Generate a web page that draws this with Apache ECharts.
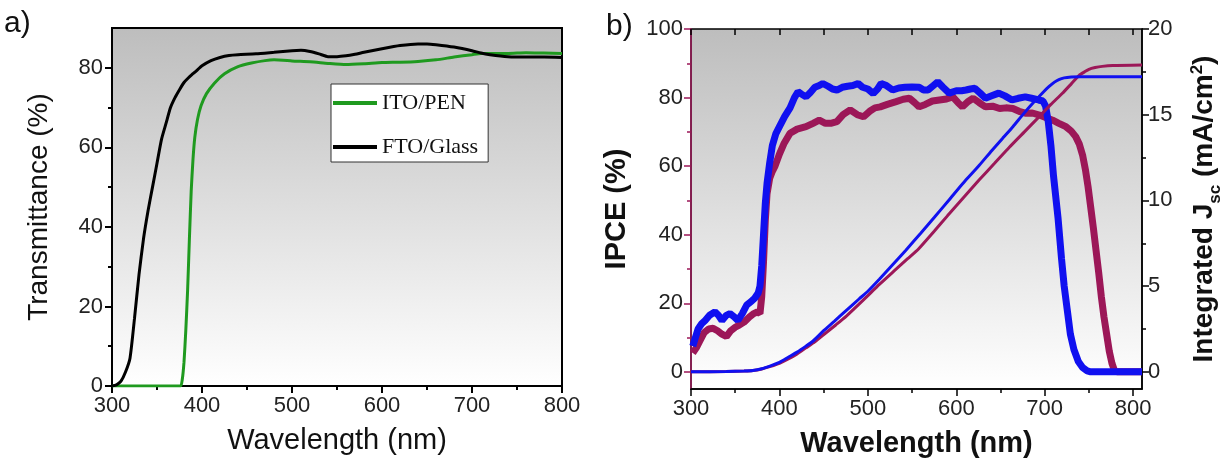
<!DOCTYPE html>
<html><head><meta charset="utf-8">
<script src="https://cdn.jsdelivr.net/npm/echarts@6/dist/echarts.min.js"></script>
<style>html,body{margin:0;padding:0;background:#fff}#c{width:1225px;height:465px}</style>
</head><body><div id="c"></div><script>
// ---------- DATA ----------
// Panel a) transmittance [wavelength nm, T %]
const ftoGlass = [[300,0],[305,0.3],[310,1.2],[315,3.5],[320,7],[325,17],[330,28],[335,37],[340,44],[345,50],[350,56],[355,62],[360,66],[365,70],[370,72.5],[375,74.5],[380,76.3],[385,77.5],[390,78.5],[395,79.5],[400,80.5],[410,81.8],[420,82.6],[430,83.1],[440,83.3],[460,83.5],[480,83.9],[500,84.3],[510,84.4],[520,84.1],[530,83.5],[540,82.8],[550,82.8],[560,83.0],[570,83.4],[580,83.9],[600,84.8],[620,85.6],[640,86],[650,86],[660,85.8],[680,85.2],[700,84.3],[710,83.7],[720,83.3],[740,82.8],[760,82.7],[780,82.7],[800,82.6]];
const itoPen = [[300,0],[376,0],[378,1.5],[380,6],[382,14],[384,24],[386,37],[388,49],[390,57],[392,62.5],[395,67],[399,70.5],[405,73.5],[414,76.2],[425,78.5],[440,80.3],[455,81.2],[470,81.8],[480,82],[490,81.9],[500,81.7],[520,81.5],[540,81.1],[560,80.8],[580,81],[600,81.3],[620,81.4],[640,81.6],[660,82],[680,82.7],[700,83.3],[710,83.6],[720,83.6],[740,83.6],[760,83.8],[780,83.7],[800,83.6]];
// Panel b) IPCE [wavelength nm, IPCE %]
const ipceBlue = [[302,7.5],[305,10],[308,12.5],[312,14],[316,15],[321,16.5],[327,17.5],[331,16.5],[335,15],[340,16.5],[344,17],[349,16],[353,15],[358,17],[363,19.5],[368,20.5],[372,21.5],[376,23],[378,25],[380,31],[382,40],[384,49],[386,55],[389,61],[392,66],[396,69.5],[400,71.5],[406,74.5],[412,77],[417,80],[421,81.7],[425,81],[430,80.2],[435,81.5],[440,83],[445,83.5],[449,84.1],[455,83.3],[460,82.5],[465,82.2],[471,83],[477,83.3],[483,83.5],[489,84.1],[494,83],[500,82.5],[506,81.2],[511,82.5],[515,84.1],[521,83.5],[528,82.2],[535,82.8],[542,83],[550,83.1],[558,83],[563,82.2],[568,82.2],[574,83.5],[579,84.6],[585,83],[592,81.3],[600,82],[606,82],[611,82.2],[616,82.5],[621,82.7],[627,81.3],[633,79.8],[640,80.5],[648,81.3],[655,80.5],[663,79.3],[670,79.8],[678,80.2],[685,79.8],[693,79.3],[698,79],[701,77.5],[704,73],[707,66],[710,57],[715,45],[719,33],[722,25],[726,17],[729,11],[733,6.5],[738,3],[743,1.2],[748,0.3],[752,0],[810,0]];
const ipceRed = [[302,5.5],[306,7],[310,9],[315,11.5],[320,12.5],[325,12.7],[330,12],[335,11],[340,10.3],[345,12],[350,13],[355,13.7],[360,14.5],[366,16],[371,17],[375,17.5],[378,17],[380,22],[382,32],[384,44],[386,52],[389,56.5],[392,58.5],[395,60],[400,63.5],[405,66.5],[412,69.6],[420,70.8],[430,71.5],[438,72.5],[445,73.4],[452,72.5],[458,72.5],[465,73],[472,75],[480,76.4],[488,75],[495,74.4],[502,76],[508,77],[514,77.3],[522,78],[532,78.8],[540,79.5],[547,79.8],[553,78.5],[558,77.3],[565,78],[573,79],[581,79.3],[589,79.6],[596,80.2],[602,78.5],[607,77.3],[613,78.8],[619,79.8],[626,78.5],[633,77.3],[641,77.5],[649,76.8],[656,77],[664,76.8],[671,76],[679,75.4],[686,75.5],[694,74.9],[701,74.2],[709,73.4],[716,72.5],[724,71.5],[730,70.2],[735,68.6],[739,66.5],[743,63],[746,59],[749,54],[752,48],[755,42],[758,35.5],[761,29],[764,22],[767,16],[770,11],[773,6],[776,2.5],[779,0.3],[782,0],[810,0]];
// Panel b) integrated Jsc [wavelength nm, mA/cm2]
const jscBlue = [[300,0],[340,0.02],[360,0.05],[370,0.08],[380,0.18],[390,0.35],[400,0.55],[410,0.85],[420,1.15],[430,1.5],[438,1.8],[450,2.4],[462,2.95],[476,3.6],[490,4.25],[500,4.7],[513,5.4],[528,6.25],[543,7.1],[560,8.1],[575,9.0],[593,10.1],[611,11.2],[626,12.05],[640,12.9],[652,13.6],[664,14.3],[676,15.05],[688,15.75],[698,16.3],[705,16.65],[711,16.9],[716,17.05],[722,17.15],[730,17.2],[740,17.22],[810,17.22]];
const jscRed = [[300,0],[340,0.02],[360,0.05],[370,0.08],[380,0.17],[390,0.32],[400,0.5],[410,0.75],[420,1.05],[430,1.4],[440,1.75],[452,2.25],[464,2.75],[476,3.27],[490,3.95],[500,4.45],[513,5.1],[530,5.9],[545,6.6],[557,7.15],[575,8.2],[590,9.1],[608,10.15],[626,11.2],[643,12.15],[660,13.1],[677,14.0],[694,14.9],[707,15.6],[720,16.25],[730,16.8],[739,17.3],[745,17.5],[750,17.65],[757,17.75],[765,17.82],[777,17.87],[810,17.9]];
// Tick labels
const aTicksX = [300,400,500,600,700,800];
const aMinorX = [350,450,550,650,750];
const aTicksY = [0,20,40,60,80];
const aMinorY = [10,30,50,70];
const bTicksX = [300,400,500,600,700,800];
const bMinorX = [350,450,550,650,750];
const bTopX = [300,350,400,450,500,550,600,650,700,750,800];
const bTicksY = [0,20,40,60,80,100];
const bMinorY = [10,30,50,70,90];
const bTicksY2 = [0,5,10,15,20];
const bMinorY2 = [2.5,7.5,12.5,17.5];

// ---------- CHART ----------
const FONT = '"Liberation Sans", Arial, Helvetica, sans-serif';
const RED = '#9c1758';
const BLUE = '#1010f0';
const GREEN = '#1f9a1f';
const bg = {type:'linear', x:0, y:0, x2:0, y2:1, colorStops:[{offset:0,color:'#bdbdbd'},{offset:1,color:'#ffffff'}]};

function axis(kind, o) {
  const color = o.color || '#000';
  return Object.assign({
    type: 'value', gridIndex: o.grid, min: o.min, max: o.max, position: o.pos,
    splitLine: {show: false},
    axisLine: {show: !!o.line, onZero: false, lineStyle: {color: color, width: o.lw || 2}},
    axisTick: {show: true, customValues: o.ticks, inside: !!o.inside, length: o.len || 7, lineStyle: {color: color, width: o.lw || 2}},
    axisLabel: o.labels ? {show: true, customValues: o.ticks, fontSize: 22, color: '#222', fontFamily: FONT, margin: o.margin || 8} : {show: false}
  }, o.extra || {});
}

const xAxes = [
  axis('x', {grid:0, min:300, max:800, pos:'bottom', line:true, ticks:aTicksX, labels:true, margin:9, extra:{
    name:'Wavelength (nm)', nameLocation:'middle', nameGap:40, nameTextStyle:{fontSize:29, color:'#111', fontFamily:FONT}}}),
  axis('x', {grid:0, min:300, max:800, pos:'bottom', ticks:aMinorX, len:4}),
  axis('x', {grid:1, min:300, max:810, pos:'bottom', line:true, lw:1.5, ticks:bTicksX, labels:true, margin:9, extra:{
    name:'Wavelength (nm)', nameLocation:'middle', nameGap:40, nameTextStyle:{fontSize:29, fontWeight:'bold', color:'#111', fontFamily:FONT}}}),
  axis('x', {grid:1, min:300, max:810, pos:'bottom', ticks:bMinorX, len:4, lw:1.5}),
  axis('x', {grid:1, min:300, max:810, pos:'top', ticks:bTopX, len:6, lw:1.5, inside:true})
];
const yAxes = [
  axis('y', {grid:0, min:0, max:90, pos:'left', line:true, ticks:aTicksY, labels:true, margin:9, extra:{
    name:'Transmittance (%)', nameLocation:'middle', nameGap:59, nameTextStyle:{fontSize:28, color:'#111', fontFamily:FONT}}}),
  axis('y', {grid:0, min:0, max:90, pos:'left', ticks:aMinorY, len:4}),
  axis('y', {grid:1, min:-5, max:100, pos:'left', line:true, lw:1.5, color:RED, ticks:bTicksY, labels:true, margin:8, extra:{
    name:'IPCE (%)', nameLocation:'middle', nameGap:60, nameTextStyle:{fontSize:29, fontWeight:'bold', color:'#111', fontFamily:FONT}}}),
  axis('y', {grid:1, min:-5, max:100, pos:'left', color:RED, ticks:bMinorY, len:4, lw:1.5}),
  axis('y', {grid:1, min:-1, max:20, pos:'right', line:true, lw:1.5, ticks:bTicksY2, labels:true, margin:6, extra:{
    name:'{b|Integrated J}{s|sc}{b| (mA/cm}{p|2}{b|)}', nameLocation:'middle', nameGap:42,
    nameTextStyle:{color:'#111', fontFamily:FONT, rich:{
      b:{fontSize:28, fontWeight:'bold', color:'#111', fontFamily:FONT, lineHeight:40},
      s:{fontSize:17, fontWeight:'bold', color:'#111', fontFamily:FONT, verticalAlign:'bottom'},
      p:{fontSize:17, fontWeight:'bold', color:'#111', fontFamily:FONT, verticalAlign:'top', padding:[5,0,0,0]}
    }}}}),
  axis('y', {grid:1, min:-1, max:20, pos:'right', ticks:bMinorY2, len:4, lw:1.5})
];

function line(name, data, xi, yi, color, width, smooth) {
  return {type:'line', name:name, data:data, xAxisIndex:xi, yAxisIndex:yi, symbol:'none', showSymbol:false,
    smooth:smooth, lineStyle:{color:color, width:width}, itemStyle:{color:color}, animation:false, silent:true};
}

const option = {
  animation: false,
  grid: [
    {left:112, top:28, width:450, height:358, show:true, backgroundColor:bg, borderColor:'#000', borderWidth:2},
    {left:691, top:29, width:452, height:360, show:true, backgroundColor:bg, borderColor:'#000', borderWidth:1.5}
  ],
  xAxis: xAxes,
  yAxis: yAxes,
  legend: {
    data:['ITO/PEN','FTO/Glass'], orient:'vertical', left:331, top:84,
    backgroundColor:'#fff', borderColor:'#333', borderWidth:1, padding:[7,10,3,2],
    itemWidth:44, itemHeight:4, icon:'rect', itemGap:20,
    textStyle:{fontFamily:'"Liberation Serif", "Times New Roman", serif', fontSize:22, color:'#111', lineHeight:24}
  },
  graphic: [
    {type:'text', left:4, top:9, style:{text:'a)', fontSize:30, fontFamily:FONT, fill:'#111'}},
    {type:'text', left:606, top:12, style:{text:'b)', fontSize:30, fontFamily:FONT, fill:'#111'}}
  ],
  series: [
    line('ITO/PEN', itoPen, 0, 0, GREEN, 3, 0.2),
    line('FTO/Glass', ftoGlass, 0, 0, '#000', 3, 0.2),
    line('IPCE red', ipceRed, 2, 2, RED, 7, false),
    line('IPCE blue', ipceBlue, 2, 2, BLUE, 7, false),
    line('Jsc red', jscRed, 2, 4, RED, 3, 0.2),
    line('Jsc blue', jscBlue, 2, 4, BLUE, 3, 0.2)
  ]
};
const chart = echarts.init(document.getElementById('c'), null, {renderer:'canvas'});
chart.setOption(option);
</script></body></html>
